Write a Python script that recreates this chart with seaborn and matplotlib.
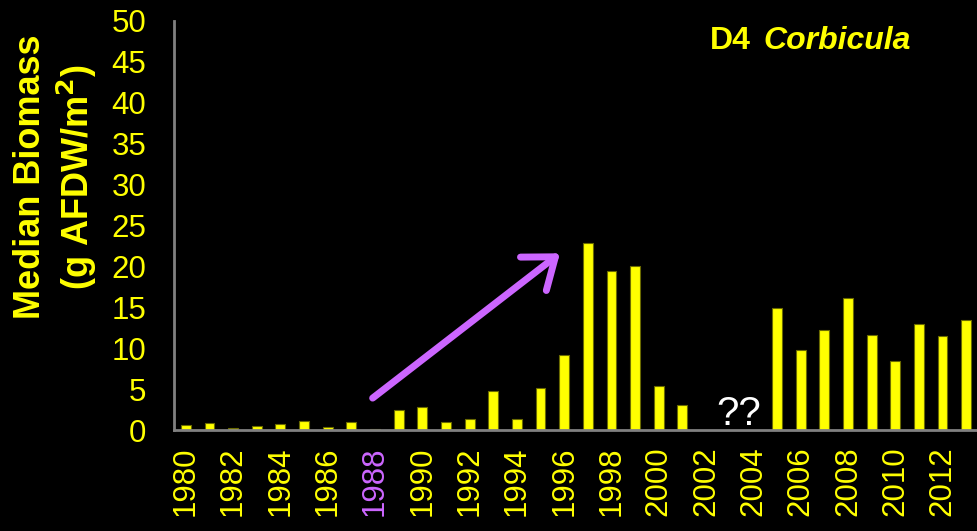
import numpy as np
import pandas as pd
import seaborn as sns
import matplotlib
matplotlib.use('Agg')
from matplotlib import pyplot as plt

# Datos (2002-2004 sin muestreo).
years = list(range(1980, 2014))
biomass = [0.65, 0.8, 0.3, 0.5, 0.7, 1.15, 0.4, 1.0, 0.15, 2.45,
           2.85, 1.0, 1.4, 4.8, 1.4, 5.1, 9.15, 22.9, 19.45, 20.05,
           5.35, 3.1, None, None, None, 14.95, 9.8, 12.25, 16.15, 11.6,
           8.45, 13.0, 11.5, 13.4]
year_labels = [str(y) if y % 2 == 0 else '' for y in years]
highlight_year = '1988'

YELLOW = '#ffff00'
PURPLE = '#cc66ff'
GRAY = '#808080'

sns.set_style('dark')
plt.rcParams['font.family'] = ['Liberation Sans', 'DejaVu Sans']

df = pd.DataFrame({'year': [str(y) for y in years], 'biomass': biomass}).dropna()
order = [str(y) for y in years]

fig = plt.figure(figsize=(9.78, 5.31), dpi=100, facecolor='black')
ax = fig.add_axes([174 / 978, 101 / 531, 1 - 174 / 978, 409 / 531])
ax.set_facecolor('black')

sns.barplot(data=df, x='year', y='biomass', order=order, color=YELLOW,
            saturation=1, width=0.42, edgecolor='#6b6b00', linewidth=0.8,
            ax=ax)

ax.set_xlim(-0.5, len(years) - 0.5)
ax.set_ylim(0, 50)
ax.grid(False)

for side in ['top', 'right']:
    ax.spines[side].set_visible(False)
for side in ['left', 'bottom']:
    ax.spines[side].set_visible(True)
    ax.spines[side].set_color(GRAY)
    ax.spines[side].set_linewidth(2)

# Eje y
ax.set_yticks(np.arange(0, 51, 5))
ax.tick_params(axis='y', colors=GRAY, length=8, width=2, direction='out',
               labelcolor=YELLOW, labelsize=22.5, pad=12)

# Eje x: etiquetas cada dos anos, marcas entre categorias
ax.set_xticks(range(len(years)))
ax.set_xticklabels(year_labels, rotation=90)
ax.tick_params(axis='x', which='major', length=0, labelcolor=YELLOW,
               labelsize=22.5, pad=12)
ax.set_xticks(np.arange(-0.5, len(years), 1), minor=True)
ax.tick_params(axis='x', which='minor', colors=GRAY, length=8, width=2,
               direction='out')
for lbl in ax.get_xticklabels():
    if lbl.get_text() == highlight_year:
        lbl.set_color(PURPLE)

ax.set_xlabel('')
ax.set_ylabel('')
fig.text(56 / 978, 1 - 177 / 531, 'Median Biomass\n(g AFDW/m$^\\mathbf{2}$)',
         color=YELLOW, fontsize=26, fontweight='bold', linespacing=1.2,
         rotation=90, ha='center', va='center', multialignment='center')

fig.text(710 / 978, 1 - 49 / 531, 'D4', color=YELLOW,
         fontsize=23, fontweight='bold', ha='left', va='baseline')
fig.text(763 / 978, 1 - 49 / 531, 'Corbicula', color=YELLOW,
         fontsize=23, fontweight='bold', style='italic', ha='left',
         va='baseline')

ax.text(23.4, 2.0, '??', color='white', fontsize=29, ha='center',
        va='center')

ax.annotate('', xy=(15.82, 21.6), xytext=(7.9, 3.9),
            arrowprops=dict(arrowstyle='->,head_length=0.5,head_width=0.38',
                            color=PURPLE, lw=5, mutation_scale=40,
                            capstyle='round', joinstyle='round',
                            shrinkA=0, shrinkB=0))

fig.savefig('out.png', dpi=100, facecolor='black')
